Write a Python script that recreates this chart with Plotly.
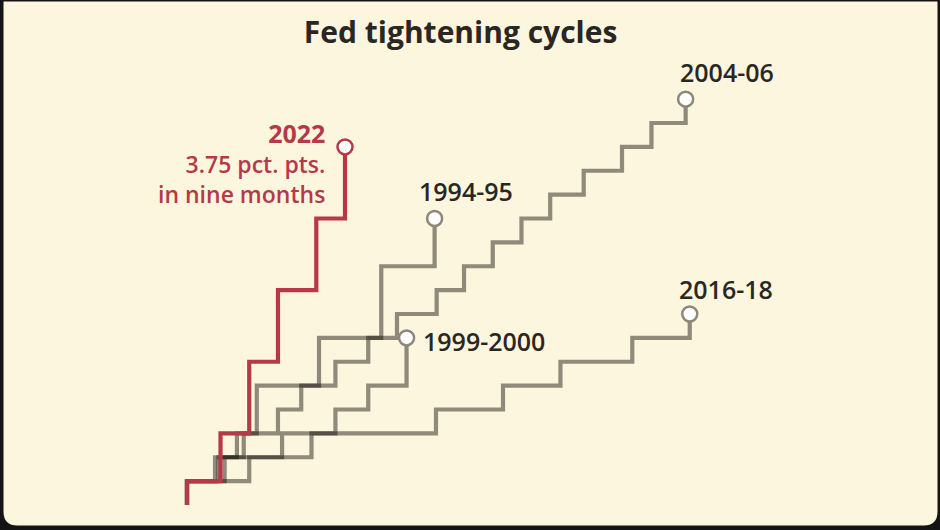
import plotly.graph_objects as go
import pandas as pd

# ---- data: rate-hike dates and sizes (percentage points) ----
c1994_dates = ["1994-02-04", "1994-03-22", "1994-04-18", "1994-05-17", "1994-08-16", "1994-11-15", "1995-02-01"]
c1994_sizes = [0.25, 0.25, 0.25, 0.50, 0.50, 0.75, 0.50]

c1999_dates = ["1999-06-30", "1999-08-24", "1999-11-16", "2000-02-02", "2000-03-21", "2000-05-16"]
c1999_sizes = [0.25, 0.25, 0.25, 0.25, 0.25, 0.50]

c2004_dates = ["2004-06-30", "2004-08-10", "2004-09-21", "2004-11-10", "2004-12-14", "2005-02-02",
               "2005-03-22", "2005-05-03", "2005-06-30", "2005-08-09", "2005-09-20", "2005-11-01",
               "2005-12-13", "2006-01-31", "2006-03-28", "2006-05-10", "2006-06-29"]
c2004_sizes = [0.25] * 17

c2016_dates = ["2016-12-14", "2017-03-15", "2017-06-14", "2017-12-13", "2018-03-21", "2018-06-13",
               "2018-09-26", "2018-12-19"]
c2016_sizes = [0.25] * 8

c2022_dates = ["2022-03-16", "2022-05-04", "2022-06-15", "2022-07-27", "2022-09-21", "2022-11-02"]
c2022_sizes = [0.25, 0.50, 0.75, 0.75, 0.75, 0.75]

cycle_names = ["1994-95", "1999-2000", "2004-06", "2016-18"]
label_2022 = ["2022", "3.75 pct. pts.", "in nine months"]

# ---- styling ----
BG = "#fdf6df"
FRAME = "#141414"
GREY_LINE = "rgba(20,16,8,0.47)"
GREY_SOLID = "#8b877b"
RED = "#b6394a"
TEXT = "#2a2723"
FONT = "Open Sans"

W, H = 940, 530


def cycle_xy(dates, sizes):
    d = pd.to_datetime(pd.Series(dates))
    days = (d - d.iloc[0]).dt.days.tolist()
    cum = pd.Series(sizes).cumsum().tolist()
    return [0] + days, [0] + cum


fig = go.Figure()

grey_cycles = [
    (c1994_dates, c1994_sizes),
    (c1999_dates, c1999_sizes),
    (c2004_dates, c2004_sizes),
    (c2016_dates, c2016_sizes),
]

ends = []
for (dts, szs), name in zip(grey_cycles, cycle_names):
    x, y = cycle_xy(dts, szs)
    ends.append((x[-1], y[-1], name))
    fig.add_trace(go.Scatter(x=x, y=y, mode="lines", line=dict(color=GREY_LINE, width=4.2, shape="hv"),
                             hoverinfo="skip", showlegend=False))

for ex, ey, name in ends:
    fig.add_trace(go.Scatter(x=[ex], y=[ey], mode="markers",
                             marker=dict(size=15, color="white", line=dict(color=GREY_SOLID, width=2.5)),
                             hoverinfo="skip", showlegend=False))

x22, y22 = cycle_xy(c2022_dates, c2022_sizes)
fig.add_trace(go.Scatter(x=x22, y=y22, mode="lines", line=dict(color=RED, width=4.2, shape="hv"),
                         hoverinfo="skip", showlegend=False))
fig.add_trace(go.Scatter(x=[x22[-1]], y=[y22[-1]], mode="markers",
                         marker=dict(size=15, color="white", line=dict(color=RED, width=2.5)),
                         hoverinfo="skip", showlegend=False))

# ---- labels ----
label_offsets = {
    "1994-95": dict(xshift=31, yshift=28, xanchor="center", yanchor="middle"),
    "1999-2000": dict(xshift=14, yshift=-3, xanchor="left", yanchor="middle"),
    "2004-06": dict(xshift=41, yshift=27, xanchor="center", yanchor="middle"),
    "2016-18": dict(xshift=36, yshift=25, xanchor="center", yanchor="middle"),
}
for ex, ey, name in ends:
    fig.add_annotation(x=ex, y=ey, text=name, showarrow=False,
                       font=dict(family=FONT, size=25, color=TEXT, weight=600),
                       **label_offsets[name])

fig.add_annotation(x=x22[-1], y=y22[-1],
                   text=(f"<span style='font-size:25px'><b>{label_2022[0]}</b></span>"
                         f"<br>{label_2022[1]}<br>{label_2022[2]}"),
                   showarrow=False, align="right", xanchor="right", yanchor="middle",
                   xshift=-18, yshift=-16,
                   font=dict(family=FONT, size=23, color=RED, weight=600))

# ---- pixel-based axis ranges ----
k = 0.684  # px per day
origin_x, origin_y = 187, 505
py_per_pp = 95.5
x_range = [-origin_x / k, (W - origin_x) / k]
y_range = [(origin_y - H) / py_per_pp, origin_y / py_per_pp]


def px(xp):
    return xp / W


def py(yp):
    return 1 - yp / H


# cream card with rounded bottom corners
L, R, T, B, r = 3.5, 937.5, 1.5, 525.5, 14
path = (f"M {px(L)},{py(T)} L {px(R)},{py(T)} L {px(R)},{py(B - r)} "
        f"Q {px(R)},{py(B)} {px(R - r)},{py(B)} L {px(L + r)},{py(B)} "
        f"Q {px(L)},{py(B)} {px(L)},{py(B - r)} Z")
fig.add_shape(type="path", path=path, xref="paper", yref="paper", fillcolor=BG,
              line=dict(width=0), layer="below")

fig.update_layout(
    width=W, height=H,
    margin=dict(l=0, r=0, t=0, b=0),
    paper_bgcolor=FRAME, plot_bgcolor=FRAME,
    title=dict(text="Fed tightening cycles", x=0.49, xanchor="center", y=1 - 32 / H, yanchor="middle",
               font=dict(family=FONT, size=30, color=TEXT, weight=700)),
    xaxis=dict(range=x_range, visible=False, fixedrange=True),
    yaxis=dict(range=y_range, visible=False, fixedrange=True),
    showlegend=False,
)

fig.write_html("out.html", config={"displayModeBar": False},
               post_script="document.body.style.margin='0';")
